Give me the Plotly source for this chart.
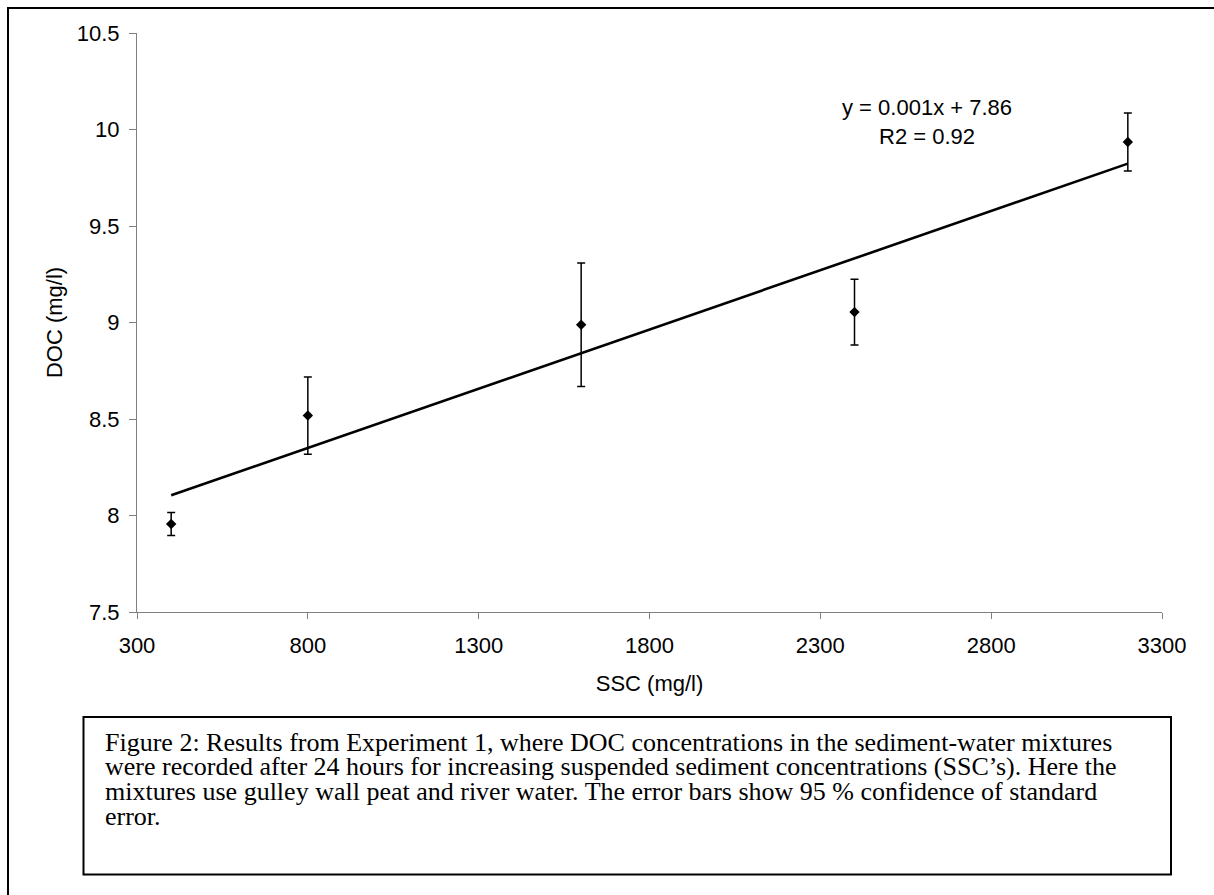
import numpy as np
import plotly.graph_objects as go

# ---- data ----
ssc = [400, 800, 1600, 2400, 3200]                 # SSC (mg/l)
doc = [7.956, 8.518, 8.988, 9.054, 9.935]          # DOC (mg/l)
doc_err = [0.06, 0.20, 0.32, 0.17, 0.15]           # 95 % CI of SE
x_ticks = [300, 800, 1300, 1800, 2300, 2800, 3300]
y_ticks = [7.5, 8, 8.5, 9, 9.5, 10, 10.5]
y_tick_labels = ["7.5", "8", "8.5", "9", "9.5", "10", "10.5"]
eq_text = "y = 0.001x + 7.86<br>R2 = 0.92"
caption_lines = [
    "Figure 2: Results from Experiment 1, where DOC concentrations in the sediment-water mixtures",
    "were recorded after 24 hours for increasing suspended sediment concentrations (SSC\u2019s). Here the",
    "mixtures use gulley wall peat and river water. The error bars show 95 % confidence of standard",
    "error.",
]

# linear trendline fitted to the data
slope, intercept = np.polyfit(ssc, doc, 1)
trend_x = [min(ssc), max(ssc)]
trend_y = [slope * v + intercept for v in trend_x]

W, H = 1214, 895
L, R, T, B = 137, 1162, 33, 612


def pxx(px):
    return (px - L) / (R - L)


def pxy(py):
    return (B - py) / (B - T)


fig = go.Figure()
fig.add_trace(go.Scatter(
    x=trend_x, y=trend_y, mode="lines",
    line=dict(color="black", width=2.6), hoverinfo="skip", showlegend=False))
fig.add_trace(go.Scatter(
    x=ssc, y=doc, mode="markers",
    marker=dict(symbol="diamond", size=8, color="black"),
    error_y=dict(type="data", array=doc_err, visible=True, color="black",
                 thickness=1.5, width=4),
    showlegend=False))

axis_font = dict(family="Liberation Sans, Arial, sans-serif", size=22, color="black")

fig.update_xaxes(
    range=[300, 3300], tickvals=x_ticks, ticktext=[str(v) for v in x_ticks],
    showline=True, linecolor="#7f7f7f", linewidth=1, showgrid=False, zeroline=False,
    ticks="outside", ticklen=6, tickcolor="#7f7f7f", tickwidth=1,
    tickfont=axis_font, ticklabelstandoff=8,
    title=dict(text="SSC (mg/l)", font=axis_font, standoff=18))
fig.update_yaxes(
    range=[7.5, 10.5], tickvals=y_ticks, ticktext=y_tick_labels,
    showline=True, linecolor="#7f7f7f", linewidth=1, showgrid=False, zeroline=False,
    ticks="outside", ticklen=7, tickcolor="#7f7f7f", tickwidth=1,
    tickfont=axis_font, ticklabelstandoff=5,
    title=dict(text="DOC (mg/l)", font=axis_font, standoff=8))

annotations = [dict(
    x=pxx(927), y=pxy(122), xref="paper", yref="paper", text=eq_text,
    showarrow=False, align="center", xanchor="center", yanchor="middle",
    font=axis_font)]

caption_font = dict(family="Liberation Serif, Times New Roman, serif", size=26, color="black")
centers = [742, 766.7, 791.5, 816.3]
for line, cy in zip(caption_lines, centers):
    annotations.append(dict(
        x=pxx(103), y=pxy(cy), xref="paper", yref="paper", text=line,
        showarrow=False, align="left", xanchor="left", yanchor="middle",
        font=caption_font))

shapes = [
    # outer frame (only top/left edges visible)
    dict(type="rect", xref="paper", yref="paper",
         x0=pxx(8), x1=pxx(1260), y0=pxy(8), y1=pxy(940),
         line=dict(color="black", width=2), layer="above"),
    # caption box
    dict(type="rect", xref="paper", yref="paper",
         x0=pxx(83.5), x1=pxx(1171), y0=pxy(717), y1=pxy(874.5),
         line=dict(color="black", width=2), layer="above"),
]

fig.update_layout(
    width=W, height=H,
    margin=dict(l=L, r=W - R, t=T, b=H - B, pad=0),
    paper_bgcolor="white", plot_bgcolor="white",
    annotations=annotations, shapes=shapes,
    showlegend=False,
)

fig.write_html("out.html")
